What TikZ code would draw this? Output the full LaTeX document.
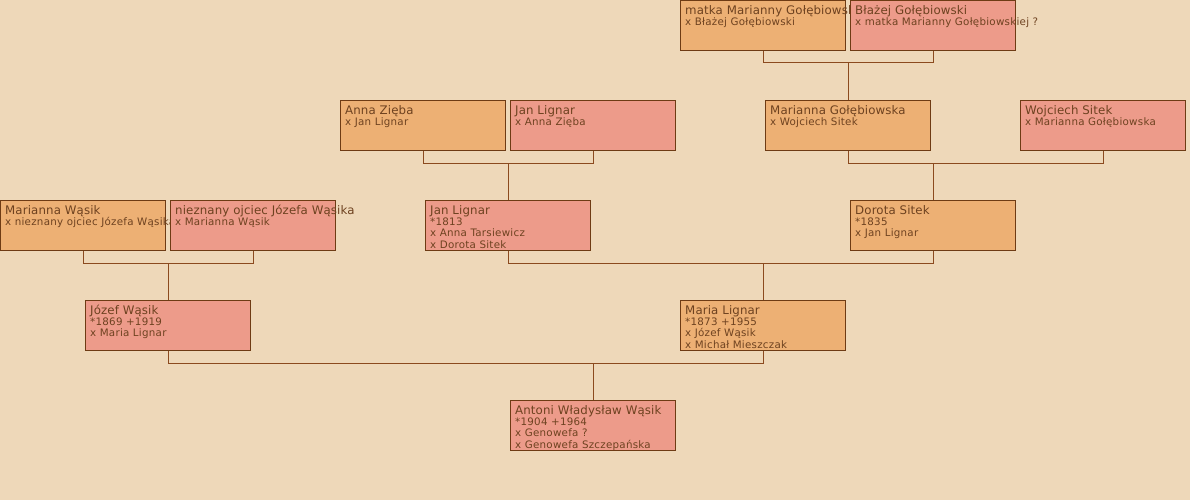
\documentclass[tikz,border=0pt]{standalone}
\usepackage{fontspec}
\setmainfont{DejaVu Sans}
\newfontfamily\detfont[LetterSpace=2.5]{DejaVu Sans}
\newfontfamily\namefont[LetterSpace=1]{DejaVu Sans}
\usetikzlibrary{positioning}
\definecolor{paper}{HTML}{EED8B9}
\definecolor{femfill}{HTML}{EDB074}
\definecolor{malefill}{HTML}{ED9B8A}
\definecolor{boxline}{HTML}{6E3B14}
\definecolor{linkline}{HTML}{8B4A1E}
\definecolor{inkcol}{HTML}{6E4220}
\newcommand\pname[1]{{\namefont\fontsize{11.8}{11}\selectfont\rule{0pt}{11pt}#1}}

\begin{document}
\begin{tikzpicture}[
  x=1pt, y=-1pt,
  person/.style = {draw=boxline, line width=0.9pt, anchor=north west,
                   minimum width=165pt, minimum height=50pt, inner sep=0pt},
  female/.style = {person, fill=femfill},
  male/.style   = {person, fill=malefill},
  txt/.style    = {anchor=north west, xshift=5pt, yshift=-3pt, inner sep=0pt,
                   align=left, text=inkcol, font=\detfont\fontsize{10.3}{11.3}\selectfont},
  conn/.style   = {draw=linkline, line width=0.8pt},
]
\fill[paper] (0,0) rectangle (1190,500);
\useasboundingbox (0,0) rectangle (1190,500);

% great-grandparents
\node[female, label={[txt]north west:{\pname{matka Marianny Gołębiowskiej}\\x Błażej Gołębiowski}}] (mmg) at (680,0) {};
\node[male, label={[txt]north west:{\pname{Błażej Gołębiowski}\\x matka Marianny Gołębiowskiej ?}}] (bgo) at (850,0) {};

\node[female, label={[txt]north west:{\pname{Anna Zięba}\\x Jan Lignar}}] (azi) at (340,100) {};
\node[male, label={[txt]north west:{\pname{Jan Lignar}\\x Anna Zięba}}] (jli1) at (510,100) {};
\node[female, label={[txt]north west:{\pname{Marianna Gołębiowska}\\x Wojciech Sitek}}] (mgo) at (765,100) {};
\node[male, label={[txt]north west:{\pname{Wojciech Sitek}\\x Marianna Gołębiowska}}] (wsi) at (1020,100) {};

% grandparents
\node[female, label={[txt]north west:{\pname{Marianna Wąsik}\\x nieznany ojciec Józefa Wąsika}}] (mwa) at (0,200) {};
\node[male, label={[txt]north west:{\pname{nieznany ojciec Józefa Wąsika}\\x Marianna Wąsik}}] (noj) at (170,200) {};
\node[male, label={[txt]north west:{\pname{Jan Lignar}\\{}*1813\\x Anna Tarsiewicz\\x Dorota Sitek}}] (jli2) at (425,200) {};
\node[female, label={[txt]north west:{\pname{Dorota Sitek}\\{}*1835\\x Jan Lignar}}] (dsi) at (850,200) {};

% parents
\node[male, label={[txt]north west:{\pname{Józef Wąsik}\\{}*1869 +1919\\x Maria Lignar}}] (jwa) at (85,300) {};
\node[female, label={[txt]north west:{\pname{Maria Lignar}\\{}*1873 +1955\\x Józef Wąsik\\x Michał Mieszczak}}] (mli) at (680,300) {};

\node[male, label={[txt]north west:{\pname{Antoni Władysław Wąsik}\\{}*1904 +1964\\x Genowefa ?\\x Genowefa Szczepańska}}] (awa) at (510,400) {};

% couples and children
\draw[conn] (mmg.south) -- ++(0,12) coordinate (c1) -| (bgo.south);
\draw[conn] (mgo.north) -- (mgo.north |- c1);
\draw[conn] (azi.south) -- ++(0,12) coordinate (c2) -| (jli1.south);
\draw[conn] (jli2.north) -- (jli2.north |- c2);
\draw[conn] (mgo.south) -- ++(0,12) coordinate (c3) -| (wsi.south);
\draw[conn] (dsi.north) -- (dsi.north |- c3);
\draw[conn] (mwa.south) -- ++(0,12) coordinate (c4) -| (noj.south);
\draw[conn] (jwa.north) -- (jwa.north |- c4);
\draw[conn] (jli2.south) -- ++(0,12) coordinate (c5) -| (dsi.south);
\draw[conn] (mli.north) -- (mli.north |- c5);
\draw[conn] (jwa.south) -- ++(0,12) coordinate (c6) -| (mli.south);
\draw[conn] (awa.north) -- (awa.north |- c6);

\end{tikzpicture}
\end{document}
